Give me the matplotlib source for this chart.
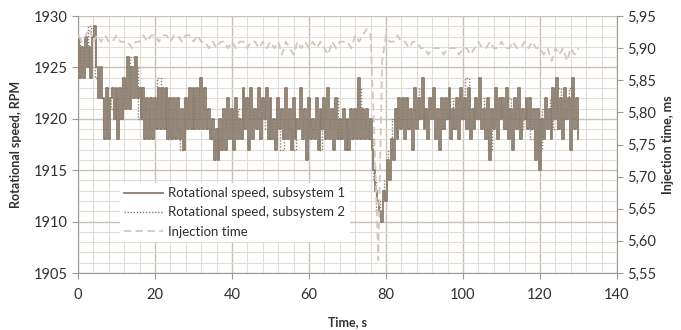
import numpy as np
import matplotlib
matplotlib.use("Agg")
import matplotlib.pyplot as plt
from matplotlib.ticker import MultipleLocator, FuncFormatter

plt.rcParams['font.family'] = ['Lato', 'DejaVu Sans']

# time axes (s)
time_fast = np.arange(0, 130.01, 0.5)
time_slow = np.arange(0, 131, 1)

# Rotational speed, subsystem 1 (RPM), sampled every 0.5 s
speed_sub1 = [
    1928, 1924, 1927, 1924, 1928, 1925, 1927, 1924, 1928, 1929,
    1925, 1922, 1925, 1922, 1918, 1923, 1918, 1922, 1923, 1920,
    1923, 1918, 1923, 1920, 1924, 1921, 1926, 1921, 1925, 1922,
    1926, 1922, 1923, 1920, 1923, 1918, 1922, 1918, 1922, 1918,
    1922, 1919, 1923, 1919, 1923, 1919, 1923, 1918, 1922, 1918,
    1922, 1918, 1922, 1918, 1921, 1917, 1922, 1919, 1923, 1919,
    1923, 1919, 1923, 1919, 1924, 1919, 1923, 1919, 1921, 1918,
    1920, 1916, 1919, 1916, 1920, 1917, 1921, 1917, 1922, 1918,
    1921, 1917, 1922, 1918, 1920, 1918, 1923, 1919, 1922, 1917,
    1923, 1918, 1921, 1919, 1923, 1918, 1922, 1920, 1923, 1918,
    1922, 1918, 1920, 1917, 1922, 1919, 1921, 1918, 1923, 1918,
    1921, 1917, 1922, 1918, 1920, 1919, 1923, 1918, 1921, 1916,
    1922, 1918, 1920, 1918, 1922, 1917, 1921, 1919, 1922, 1918,
    1923, 1918, 1921, 1917, 1922, 1918, 1920, 1918, 1921, 1917,
    1920, 1917, 1921, 1918, 1921, 1918, 1924, 1918, 1921, 1918,
    1921, 1918, 1920, 1917, 1915, 1913, 1912, 1911, 1910, 1913,
    1912, 1916, 1914, 1918, 1916, 1921, 1918, 1922, 1919, 1922,
    1918, 1922, 1919, 1921, 1917, 1923, 1919, 1922, 1920, 1924,
    1919, 1921, 1918, 1922, 1920, 1923, 1918, 1921, 1917, 1922,
    1919, 1922, 1920, 1923, 1918, 1921, 1919, 1922, 1918, 1923,
    1920, 1922, 1919, 1923, 1918, 1921, 1919, 1922, 1920, 1924,
    1919, 1921, 1918, 1922, 1916, 1921, 1919, 1923, 1918, 1922,
    1920, 1922, 1919, 1923, 1918, 1921, 1917, 1922, 1919, 1923,
    1918, 1921, 1920, 1922, 1919, 1922, 1919, 1921, 1916, 1921,
    1915, 1920, 1918, 1922, 1919, 1921, 1918, 1923, 1920, 1924,
    1919, 1922, 1918, 1923, 1920, 1922, 1917, 1924, 1919, 1922,
    1918,
]

# Rotational speed, subsystem 2 (RPM), sampled every 1 s
speed_sub2 = [
    1928, 1925, 1927, 1929, 1928, 1924, 1922, 1919, 1923, 1921,
    1922, 1920, 1924, 1922, 1926, 1925, 1920, 1922, 1919, 1921,
    1921, 1924, 1920, 1922, 1918, 1921, 1919, 1917, 1922, 1920,
    1922, 1920, 1923, 1921, 1919, 1918, 1917, 1918, 1920, 1919,
    1920, 1919, 1921, 1920, 1922, 1920, 1921, 1920, 1922, 1919,
    1920, 1918, 1921, 1917, 1920, 1919, 1917, 1920, 1921, 1918,
    1920, 1919, 1920, 1917, 1921, 1920, 1919, 1922, 1918, 1920,
    1919, 1918, 1920, 1923, 1919, 1920, 1918, 1914, 1911, 1912,
    1914, 1917, 1920, 1921, 1920, 1922, 1919, 1921, 1920, 1923,
    1920, 1921, 1922, 1920, 1919, 1921, 1920, 1922, 1919, 1921,
    1920, 1924, 1919, 1921, 1920, 1922, 1919, 1917, 1921, 1920,
    1921, 1919, 1922, 1920, 1921, 1919, 1920, 1921, 1918, 1920,
    1917, 1921, 1920, 1922, 1919, 1923, 1920, 1921, 1923, 1920,
    1919,
]

# Injection time (ms), sampled every 1 s
injection_time = [
    5.92, 5.91, 5.92, 5.93, 5.91, 5.92, 5.91, 5.92, 5.91, 5.91,
    5.92, 5.91, 5.91, 5.91, 5.90, 5.91, 5.91, 5.92, 5.91, 5.92,
    5.92, 5.91, 5.92, 5.92, 5.91, 5.92, 5.92, 5.91, 5.92, 5.92,
    5.91, 5.92, 5.91, 5.91, 5.90, 5.91, 5.90, 5.91, 5.91, 5.90,
    5.91, 5.90, 5.91, 5.91, 5.90, 5.91, 5.91, 5.90, 5.91, 5.90,
    5.91, 5.90, 5.91, 5.89, 5.91, 5.90, 5.89, 5.91, 5.90, 5.91,
    5.90, 5.91, 5.90, 5.91, 5.90, 5.89, 5.91, 5.90, 5.91, 5.91,
    5.91, 5.90, 5.92, 5.91, 5.92, 5.93, 5.92, 5.76, 5.57, 5.88,
    5.92, 5.91, 5.91, 5.92, 5.91, 5.91, 5.90, 5.91, 5.91, 5.90,
    5.90, 5.89, 5.90, 5.90, 5.90, 5.89, 5.90, 5.90, 5.90, 5.89,
    5.90, 5.90, 5.89, 5.90, 5.91, 5.90, 5.90, 5.91, 5.90, 5.90,
    5.91, 5.90, 5.90, 5.91, 5.90, 5.90, 5.91, 5.90, 5.91, 5.90,
    5.90, 5.89, 5.90, 5.88, 5.90, 5.89, 5.90, 5.88, 5.90, 5.89,
    5.90,
]

x_ticks = [0, 20, 40, 60, 80, 100, 120, 140]
speed_ticks = [1905, 1910, 1915, 1920, 1925, 1930]
inj_ticks = [5.55, 5.60, 5.65, 5.70, 5.75, 5.80, 5.85, 5.90, 5.95]

speed_color = '#8b7d6d'
inj_color = '#d0c8be'
major_grid = '#c9c0b7'
minor_grid = '#e2dcd6'
axis_color = '#a09890'
text_color = '#303030'

fig = plt.figure(figsize=(6.81, 3.30), dpi=100)
ax = fig.add_axes([0.1145, 0.1727, 0.7915, 0.7788])
ax2 = ax.twinx()

ax.set_xlim(0, 140)
ax.set_ylim(1905, 1930)
ax2.set_ylim(5.55, 5.95)

ax.set_xticks(x_ticks)
ax.set_yticks(speed_ticks)
ax2.set_yticks(inj_ticks)
ax.xaxis.set_minor_locator(MultipleLocator(4))
ax.yaxis.set_minor_locator(MultipleLocator(1))

ax.grid(which='minor', color=minor_grid, lw=0.8, zorder=0)
ax.grid(which='major', color=major_grid, lw=1.0, zorder=0)
ax.set_axisbelow(True)

ax2.yaxis.set_major_formatter(FuncFormatter(lambda v, p: f"{v:.2f}".replace('.', ',')))

l2, = ax.plot(time_slow, speed_sub2, color=speed_color, lw=1.0, ls=(0, (1, 1.2)), zorder=2,
              drawstyle='steps-mid', label='Rotational speed, subsystem 2')
l1, = ax.plot(time_fast, speed_sub1, color=speed_color, lw=1.3, zorder=3,
              drawstyle='steps-mid', label='Rotational speed, subsystem 1')
l3, = ax2.plot(time_slow, injection_time, color=inj_color, lw=1.3, ls=(0, (4, 2.5)),
               label='Injection time')

for a in (ax, ax2):
    a.spines['top'].set_visible(False)
    for s in ('left', 'bottom', 'right'):
        a.spines[s].set_color(axis_color)
ax.spines['right'].set_visible(False)
ax2.spines['left'].set_visible(False)
ax2.spines['bottom'].set_visible(False)

ax.tick_params(which='major', length=4, color=axis_color, labelsize=10.5, labelcolor=text_color)
ax.tick_params(which='minor', length=0)
ax.tick_params(axis='x', pad=7)
ax2.tick_params(which='major', length=4, color=axis_color, labelsize=10.5, labelcolor=text_color)

ax.set_xlabel('Time, s', fontsize=9, fontweight='bold', color=text_color, labelpad=10)
ax.set_ylabel('Rotational speed, RPM', fontsize=9, fontweight='bold', color=text_color, labelpad=8)
ax2.set_ylabel('Injection time, ms', fontsize=9, fontweight='bold', color=text_color, labelpad=4)

leg = ax2.legend(handles=[l1, l2, l3], loc='upper left', bbox_to_anchor=(0.065, 0.375),
                 frameon=True, fancybox=False, edgecolor='none', facecolor='white',
                 framealpha=1.0, fontsize=9.5, handlelength=3.0, handletextpad=0.4,
                 labelspacing=0.55, borderpad=0.3)
for t in leg.get_texts():
    t.set_color(text_color)

fig.savefig('out.png', dpi=100)
